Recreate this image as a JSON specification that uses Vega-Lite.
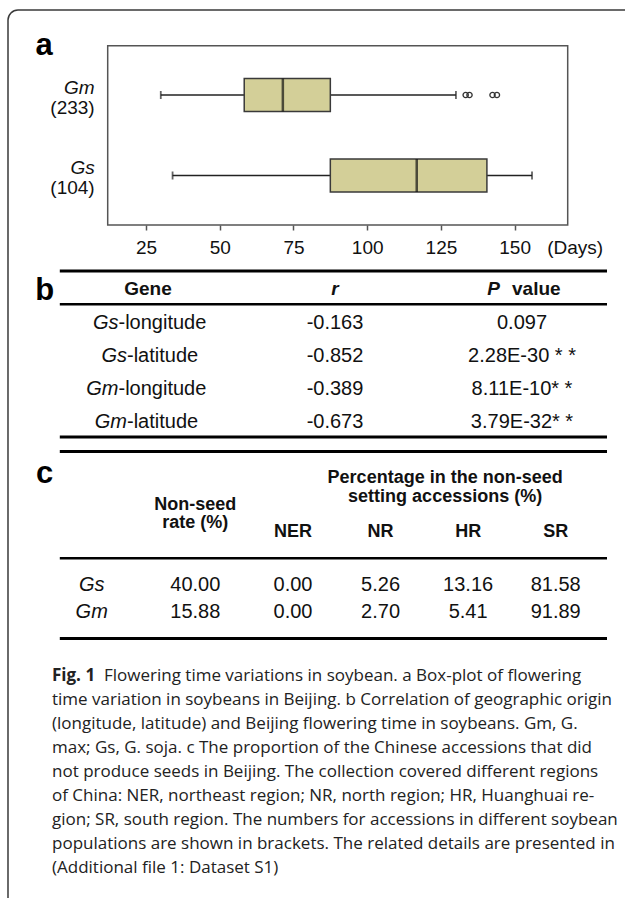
{
  "$schema": "https://vega.github.io/schema/vega-lite/v6.json",
  "width": 630,
  "height": 900,
  "autosize": "none",
  "padding": {"left": 8, "top": 10, "right": -13, "bottom": -12},
  "background": "white",
  "config": {
    "view": {"stroke": "#3a3a3a", "strokeWidth": 1.5, "cornerRadius": 10},
    "text": {"font": "Liberation Sans", "color": "#111"}
  },
  "resolve": {
    "scale": {"x": "independent", "y": "independent"},
    "axis": {"x": "independent", "y": "independent"}
  },
  "layer": [
    {
      "data": {"values": [{"panel": "a"}]},
      "layer": [
        {
          "mark": {"type": "rect", "fill": "transparent", "stroke": "#555555", "strokeWidth": 1.5},
          "encoding": {
            "x": {"datum": 12, "type": "quantitative", "scale": {"domain": [12, 168], "range": [99.7, 559.7], "nice": false, "zero": false}, "axis": null},
            "x2": {"datum": 168},
            "y": {"datum": 0, "type": "quantitative", "scale": {"domain": [0, 1], "range": [35.7, 215], "nice": false, "zero": false}, "axis": null},
            "y2": {"datum": 1}
          }
        },
        {
          "mark": {"type": "text", "align": "center", "baseline": "alphabetic", "dx": -63.7, "dy": 9.3, "fontSize": 31, "fontWeight": "bold", "color": "#000"},
          "encoding": {
            "x": {"datum": 12, "type": "quantitative", "scale": {"domain": [12, 168], "range": [99.7, 559.7], "nice": false, "zero": false}, "axis": null},
            "y": {"datum": 0, "type": "quantitative", "scale": {"domain": [0, 1], "range": [35.7, 215], "nice": false, "zero": false}, "axis": null},
            "text": {"field": "panel"}
          }
        }
      ]
    },
    {
      "data": {"values": [
        {"species": "Gm", "label": "Gm", "count": "(233)", "lo": 30, "q1": 58.3, "med": 71.4, "q3": 87.5, "hi": 130.1},
        {"species": "Gs", "label": "Gs", "count": "(104)", "lo": 34, "q1": 87.5, "med": 116.8, "q3": 140.6, "hi": 155.9}
      ]},
      "layer": [
        {
          "mark": {"type": "rule", "color": "#222", "strokeWidth": 1.5},
          "encoding": {
            "x": {"field": "lo", "type": "quantitative", "scale": {"domain": [12, 168], "range": [99.7, 559.7], "nice": false, "zero": false},
              "axis": {"orient": "bottom", "offset": -685, "values": [25, 50, 75, 100, 125, 150], "domain": false, "grid": false, "ticks": true, "tickSize": 5, "tickColor": "#555555", "tickWidth": 1.5, "labelFont": "Liberation Sans", "labelFontSize": 19, "labelColor": "#111", "labelPadding": 23.1, "labelBaseline": "alphabetic", "labelFlush": false, "labelOverlap": false, "title": "(Days)", "titleX": 566.7, "titleY": 28.1, "titleBaseline": "alphabetic", "titleAlign": "center", "titleFont": "Liberation Sans", "titleFontSize": 19, "titleFontWeight": "normal", "titleColor": "#111"}},
            "x2": {"field": "hi"},
            "y": {"field": "species", "type": "nominal", "scale": {"type": "point", "domain": ["Gm", "Gs"], "range": [85, 165.5], "padding": 0}, "axis": null}
          }
        },
        {
          "mark": {"type": "tick", "color": "#222", "size": 8, "thickness": 1.8},
          "encoding": {
            "x": {"field": "lo", "type": "quantitative", "scale": {"domain": [12, 168], "range": [99.7, 559.7], "nice": false, "zero": false}},
            "y": {"field": "species", "type": "nominal", "scale": {"type": "point", "domain": ["Gm", "Gs"], "range": [85, 165.5], "padding": 0}, "axis": null}
          }
        },
        {
          "mark": {"type": "tick", "color": "#222", "size": 8, "thickness": 1.8},
          "encoding": {
            "x": {"field": "hi", "type": "quantitative", "scale": {"domain": [12, 168], "range": [99.7, 559.7], "nice": false, "zero": false}},
            "y": {"field": "species", "type": "nominal", "scale": {"type": "point", "domain": ["Gm", "Gs"], "range": [85, 165.5], "padding": 0}, "axis": null}
          }
        },
        {
          "mark": {"type": "bar", "size": 33, "fill": "#d3cf98", "stroke": "#3a3a3a", "strokeWidth": 1.5},
          "encoding": {
            "x": {"field": "q1", "type": "quantitative", "scale": {"domain": [12, 168], "range": [99.7, 559.7], "nice": false, "zero": false}},
            "x2": {"field": "q3"},
            "y": {"field": "species", "type": "nominal", "scale": {"type": "point", "domain": ["Gm", "Gs"], "range": [85, 165.5], "padding": 0}, "axis": null}
          }
        },
        {
          "mark": {"type": "tick", "color": "#111", "size": 33, "thickness": 2.5},
          "encoding": {
            "x": {"field": "med", "type": "quantitative", "scale": {"domain": [12, 168], "range": [99.7, 559.7], "nice": false, "zero": false}},
            "y": {"field": "species", "type": "nominal", "scale": {"type": "point", "domain": ["Gm", "Gs"], "range": [85, 165.5], "padding": 0}, "axis": null}
          }
        },
        {
          "mark": {"type": "text", "align": "right", "baseline": "middle", "dx": -13, "dy": -7.5, "fontSize": 19, "fontStyle": "italic", "color": "#111"},
          "encoding": {
            "x": {"datum": 12, "type": "quantitative", "scale": {"domain": [12, 168], "range": [99.7, 559.7], "nice": false, "zero": false}},
            "y": {"field": "species", "type": "nominal", "scale": {"type": "point", "domain": ["Gm", "Gs"], "range": [85, 165.5], "padding": 0}, "axis": null},
            "text": {"field": "label"}
          }
        },
        {
          "mark": {"type": "text", "align": "right", "baseline": "middle", "dx": -13, "dy": 12.5, "fontSize": 19, "color": "#111"},
          "encoding": {
            "x": {"datum": 12, "type": "quantitative", "scale": {"domain": [12, 168], "range": [99.7, 559.7], "nice": false, "zero": false}},
            "y": {"field": "species", "type": "nominal", "scale": {"type": "point", "domain": ["Gm", "Gs"], "range": [85, 165.5], "padding": 0}, "axis": null},
            "text": {"field": "count"}
          }
        },
        {
          "data": {"values": [
            {"species": "Gm", "value": 133.4},
            {"species": "Gm", "value": 134.7},
            {"species": "Gm", "value": 142.5},
            {"species": "Gm", "value": 144.0}
          ]},
          "mark": {"type": "point", "shape": "circle", "filled": false, "size": 28, "strokeWidth": 1.3, "color": "#333", "opacity": 1},
          "encoding": {
            "x": {"field": "value", "type": "quantitative", "scale": {"domain": [12, 168], "range": [99.7, 559.7], "nice": false, "zero": false}},
            "y": {"field": "species", "type": "nominal", "scale": {"type": "point", "domain": ["Gm", "Gs"], "range": [85, 165.5], "padding": 0}, "axis": null}
          }
        }
      ]
    },
    {
      "data": {"values": [
        {"gene": "Gs-longitude", "sp": "Gs", "trait": "-longitude", "r": "-0.163", "p": "0.097"},
        {"gene": "Gs-latitude", "sp": "Gs", "trait": "-latitude", "r": "-0.852", "p": "2.28E-30 * *"},
        {"gene": "Gm-longitude", "sp": "Gm", "trait": "-longitude", "r": "-0.389", "p": "8.11E-10* *"},
        {"gene": "Gm-latitude", "sp": "Gm", "trait": "-latitude", "r": "-0.673", "p": "3.79E-32* *"}
      ]},
      "resolve": {"scale": {"x": "independent"}},
      "layer": [
        {
          "data": {"values": [{"edge": "top"}, {"edge": "bottom"}]},
          "mark": {"type": "rule", "color": "#000", "strokeWidth": 3},
          "encoding": {
            "x": {"datum": 0, "type": "quantitative", "scale": {"domain": [0, 1], "range": [51.8, 599], "nice": false, "zero": false}, "axis": null},
            "x2": {"datum": 1},
            "y": {"field": "edge", "type": "nominal", "scale": {"type": "point", "domain": ["top", "header", "mid", "Gs-longitude", "s1", "Gs-latitude", "s2", "Gm-longitude", "s3", "Gm-latitude", "bottom"], "range": [261, 427], "padding": 0}, "axis": null}
          }
        },
        {
          "data": {"values": [{"edge": "mid"}]},
          "mark": {"type": "rule", "color": "#000", "strokeWidth": 2.5},
          "encoding": {
            "x": {"datum": 0, "type": "quantitative", "scale": {"domain": [0, 1], "range": [51.8, 599], "nice": false, "zero": false}, "axis": null},
            "x2": {"datum": 1},
            "y": {"field": "edge", "type": "nominal", "scale": {"type": "point", "domain": ["top", "header", "mid", "Gs-longitude", "s1", "Gs-latitude", "s2", "Gm-longitude", "s3", "Gm-latitude", "bottom"], "range": [261, 427], "padding": 0}, "axis": null}
          }
        },
        {
          "data": {"values": [{"col": "Gene", "row": "header", "label": "Gene"}]},
          "mark": {"type": "text", "align": "center", "baseline": "middle", "dy": 1, "fontSize": 19, "fontWeight": "bold"},
          "encoding": {
            "x": {"field": "col", "type": "nominal", "scale": {"type": "point", "domain": ["Gene", "r", "P"], "range": [140, 514], "padding": 0}, "axis": null},
            "y": {"field": "row", "type": "nominal", "scale": {"type": "point", "domain": ["top", "header", "mid", "Gs-longitude", "s1", "Gs-latitude", "s2", "Gm-longitude", "s3", "Gm-latitude", "bottom"], "range": [261, 427], "padding": 0}, "axis": null},
            "text": {"field": "label"}
          }
        },
        {
          "data": {"values": [{"col": "r", "row": "header", "label": "r"}]},
          "mark": {"type": "text", "align": "center", "baseline": "middle", "dy": 1, "fontSize": 19, "fontWeight": "bold", "fontStyle": "italic"},
          "encoding": {
            "x": {"field": "col", "type": "nominal", "scale": {"type": "point", "domain": ["Gene", "r", "P"], "range": [140, 514], "padding": 0}, "axis": null},
            "y": {"field": "row", "type": "nominal", "scale": {"type": "point", "domain": ["top", "header", "mid", "Gs-longitude", "s1", "Gs-latitude", "s2", "Gm-longitude", "s3", "Gm-latitude", "bottom"], "range": [261, 427], "padding": 0}, "axis": null},
            "text": {"field": "label"}
          }
        },
        {
          "data": {"values": [{"col": "P", "row": "header", "label": "P"}]},
          "mark": {"type": "text", "align": "right", "baseline": "middle", "dy": 1, "dx": -22, "fontSize": 19, "fontWeight": "bold", "fontStyle": "italic"},
          "encoding": {
            "x": {"field": "col", "type": "nominal", "scale": {"type": "point", "domain": ["Gene", "r", "P"], "range": [140, 514], "padding": 0}, "axis": null},
            "y": {"field": "row", "type": "nominal", "scale": {"type": "point", "domain": ["top", "header", "mid", "Gs-longitude", "s1", "Gs-latitude", "s2", "Gm-longitude", "s3", "Gm-latitude", "bottom"], "range": [261, 427], "padding": 0}, "axis": null},
            "text": {"field": "label"}
          }
        },
        {
          "data": {"values": [{"col": "P", "row": "header", "label": "value"}]},
          "mark": {"type": "text", "align": "left", "baseline": "middle", "dy": 1, "dx": -10, "fontSize": 19, "fontWeight": "bold"},
          "encoding": {
            "x": {"field": "col", "type": "nominal", "scale": {"type": "point", "domain": ["Gene", "r", "P"], "range": [140, 514], "padding": 0}, "axis": null},
            "y": {"field": "row", "type": "nominal", "scale": {"type": "point", "domain": ["top", "header", "mid", "Gs-longitude", "s1", "Gs-latitude", "s2", "Gm-longitude", "s3", "Gm-latitude", "bottom"], "range": [261, 427], "padding": 0}, "axis": null},
            "text": {"field": "label"}
          }
        },
        {
          "transform": [{"filter": "datum.trait === '-longitude'"}],
          "mark": {"type": "text", "align": "right", "baseline": "middle", "dy": 2, "dx": -29.5, "fontSize": 20, "fontStyle": "italic"},
          "encoding": {
            "x": {"datum": "Gene", "type": "nominal", "scale": {"type": "point", "domain": ["Gene", "r", "P"], "range": [140, 514], "padding": 0}, "axis": null},
            "y": {"field": "gene", "type": "nominal", "scale": {"type": "point", "domain": ["top", "header", "mid", "Gs-longitude", "s1", "Gs-latitude", "s2", "Gm-longitude", "s3", "Gm-latitude", "bottom"], "range": [261, 427], "padding": 0}, "axis": null},
            "text": {"field": "sp"}
          }
        },
        {
          "transform": [{"filter": "datum.trait === '-longitude'"}],
          "mark": {"type": "text", "align": "left", "baseline": "middle", "dy": 2, "dx": -29.5, "fontSize": 20},
          "encoding": {
            "x": {"datum": "Gene", "type": "nominal", "scale": {"type": "point", "domain": ["Gene", "r", "P"], "range": [140, 514], "padding": 0}, "axis": null},
            "y": {"field": "gene", "type": "nominal", "scale": {"type": "point", "domain": ["top", "header", "mid", "Gs-longitude", "s1", "Gs-latitude", "s2", "Gm-longitude", "s3", "Gm-latitude", "bottom"], "range": [261, 427], "padding": 0}, "axis": null},
            "text": {"field": "trait"}
          }
        },
        {
          "transform": [{"filter": "datum.trait === '-latitude'"}],
          "mark": {"type": "text", "align": "right", "baseline": "middle", "dy": 2, "dx": -21, "fontSize": 20, "fontStyle": "italic"},
          "encoding": {
            "x": {"datum": "Gene", "type": "nominal", "scale": {"type": "point", "domain": ["Gene", "r", "P"], "range": [140, 514], "padding": 0}, "axis": null},
            "y": {"field": "gene", "type": "nominal", "scale": {"type": "point", "domain": ["top", "header", "mid", "Gs-longitude", "s1", "Gs-latitude", "s2", "Gm-longitude", "s3", "Gm-latitude", "bottom"], "range": [261, 427], "padding": 0}, "axis": null},
            "text": {"field": "sp"}
          }
        },
        {
          "transform": [{"filter": "datum.trait === '-latitude'"}],
          "mark": {"type": "text", "align": "left", "baseline": "middle", "dy": 2, "dx": -21, "fontSize": 20},
          "encoding": {
            "x": {"datum": "Gene", "type": "nominal", "scale": {"type": "point", "domain": ["Gene", "r", "P"], "range": [140, 514], "padding": 0}, "axis": null},
            "y": {"field": "gene", "type": "nominal", "scale": {"type": "point", "domain": ["top", "header", "mid", "Gs-longitude", "s1", "Gs-latitude", "s2", "Gm-longitude", "s3", "Gm-latitude", "bottom"], "range": [261, 427], "padding": 0}, "axis": null},
            "text": {"field": "trait"}
          }
        },
        {
          "mark": {"type": "text", "align": "center", "baseline": "middle", "dy": 2, "fontSize": 20},
          "encoding": {
            "x": {"datum": "r", "type": "nominal", "scale": {"type": "point", "domain": ["Gene", "r", "P"], "range": [140, 514], "padding": 0}, "axis": null},
            "y": {"field": "gene", "type": "nominal", "scale": {"type": "point", "domain": ["top", "header", "mid", "Gs-longitude", "s1", "Gs-latitude", "s2", "Gm-longitude", "s3", "Gm-latitude", "bottom"], "range": [261, 427], "padding": 0}, "axis": null},
            "text": {"field": "r"}
          }
        },
        {
          "mark": {"type": "text", "align": "center", "baseline": "middle", "dy": 2, "fontSize": 20},
          "encoding": {
            "x": {"datum": "P", "type": "nominal", "scale": {"type": "point", "domain": ["Gene", "r", "P"], "range": [140, 514], "padding": 0}, "axis": null},
            "y": {"field": "gene", "type": "nominal", "scale": {"type": "point", "domain": ["top", "header", "mid", "Gs-longitude", "s1", "Gs-latitude", "s2", "Gm-longitude", "s3", "Gm-latitude", "bottom"], "range": [261, 427], "padding": 0}, "axis": null},
            "text": {"field": "p"}
          }
        },
        {
          "data": {"values": [{"panel": "b"}]},
          "mark": {"type": "text", "align": "center", "baseline": "alphabetic", "dx": -103.3, "dy": 12.4, "fontSize": 31, "fontWeight": "bold", "color": "#000"},
          "encoding": {
            "x": {"datum": "Gene", "type": "nominal", "scale": {"type": "point", "domain": ["Gene", "r", "P"], "range": [140, 514], "padding": 0}, "axis": null},
            "y": {"datum": "header", "type": "nominal", "scale": {"type": "point", "domain": ["top", "header", "mid", "Gs-longitude", "s1", "Gs-latitude", "s2", "Gm-longitude", "s3", "Gm-latitude", "bottom"], "range": [261, 427], "padding": 0}, "axis": null},
            "text": {"field": "panel"}
          }
        }
      ]
    },
    {
      "data": {"values": [
        {"species": "Gs", "rate": 40.00, "NER": 0.00, "NR": 5.26, "HR": 13.16, "SR": 81.58},
        {"species": "Gm", "rate": 15.88, "NER": 0.00, "NR": 2.70, "HR": 5.41, "SR": 91.89}
      ]},
      "resolve": {"scale": {"x": "independent"}},
      "layer": [
        {
          "data": {"values": [{"edge": "top"}, {"edge": "bottom"}]},
          "mark": {"type": "rule", "color": "#000", "strokeWidth": 3},
          "encoding": {
            "x": {"datum": 0, "type": "quantitative", "scale": {"domain": [0, 1], "range": [51.8, 599], "nice": false, "zero": false}, "axis": null},
            "x2": {"datum": 1},
            "y": {"field": "edge", "type": "nominal", "scale": {"type": "point", "domain": ["top", "pct", "rate", "sub", "mid", "Gs", "Gm", "bottom"], "range": [441.5, 628.5], "padding": 0}, "axis": null}
          }
        },
        {
          "data": {"values": [{"edge": "mid"}]},
          "mark": {"type": "rule", "color": "#000", "strokeWidth": 2.5},
          "encoding": {
            "x": {"datum": 0, "type": "quantitative", "scale": {"domain": [0, 1], "range": [51.8, 599], "nice": false, "zero": false}, "axis": null},
            "x2": {"datum": 1},
            "y": {"field": "edge", "type": "nominal", "scale": {"type": "point", "domain": ["top", "pct", "rate", "sub", "mid", "Gs", "Gm", "bottom"], "range": [441.5, 628.5], "padding": 0}, "axis": null}
          }
        },
        {
          "data": {"values": [{"col": "rate", "row": "rate", "h": ["Non-seed", "rate (%)"]}]},
          "mark": {"type": "text", "align": "center", "baseline": "middle", "fontSize": 18, "fontWeight": "bold", "lineHeight": 18.5},
          "encoding": {
            "x": {"field": "col", "type": "nominal", "scale": {"type": "point", "domain": ["name", "rate"], "range": [83.7, 187.3], "padding": 0}, "axis": null},
            "y": {"field": "row", "type": "nominal", "scale": {"type": "point", "domain": ["top", "pct", "rate", "sub", "mid", "Gs", "Gm", "bottom"], "range": [441.5, 628.5], "padding": 0}, "axis": null},
            "text": {"field": "h"}
          }
        },
        {
          "data": {"values": [{"col": "HR", "row": "pct", "h": ["Percentage in the non-seed", "setting accessions (%)"]}]},
          "mark": {"type": "text", "align": "center", "baseline": "middle", "dx": -23, "fontSize": 18, "fontWeight": "bold", "lineHeight": 18.5},
          "encoding": {
            "x": {"field": "col", "type": "nominal", "scale": {"type": "point", "domain": ["NER", "NR", "HR", "SR"], "range": [285, 547.7], "padding": 0}, "axis": null},
            "y": {"field": "row", "type": "nominal", "scale": {"type": "point", "domain": ["top", "pct", "rate", "sub", "mid", "Gs", "Gm", "bottom"], "range": [441.5, 628.5], "padding": 0}, "axis": null},
            "text": {"field": "h"}
          }
        },
        {
          "transform": [{"filter": "datum.species === 'Gs'"}, {"fold": ["NER", "NR", "HR", "SR"], "as": ["region", "pct"]}],
          "mark": {"type": "text", "align": "center", "baseline": "middle", "fontSize": 18, "fontWeight": "bold"},
          "encoding": {
            "x": {"field": "region", "type": "nominal", "scale": {"type": "point", "domain": ["NER", "NR", "HR", "SR"], "range": [285, 547.7], "padding": 0}, "axis": null},
            "y": {"datum": "sub", "type": "nominal", "scale": {"type": "point", "domain": ["top", "pct", "rate", "sub", "mid", "Gs", "Gm", "bottom"], "range": [441.5, 628.5], "padding": 0}, "axis": null},
            "text": {"field": "region"}
          }
        },
        {
          "mark": {"type": "text", "align": "center", "baseline": "middle", "fontSize": 20, "fontStyle": "italic"},
          "encoding": {
            "x": {"datum": "name", "type": "nominal", "scale": {"type": "point", "domain": ["name", "rate"], "range": [83.7, 187.3], "padding": 0}, "axis": null},
            "y": {"field": "species", "type": "nominal", "scale": {"type": "point", "domain": ["top", "pct", "rate", "sub", "mid", "Gs", "Gm", "bottom"], "range": [441.5, 628.5], "padding": 0}, "axis": null},
            "text": {"field": "species"}
          }
        },
        {
          "mark": {"type": "text", "align": "center", "baseline": "middle", "fontSize": 20},
          "encoding": {
            "x": {"datum": "rate", "type": "nominal", "scale": {"type": "point", "domain": ["name", "rate"], "range": [83.7, 187.3], "padding": 0}, "axis": null},
            "y": {"field": "species", "type": "nominal", "scale": {"type": "point", "domain": ["top", "pct", "rate", "sub", "mid", "Gs", "Gm", "bottom"], "range": [441.5, 628.5], "padding": 0}, "axis": null},
            "text": {"field": "rate", "type": "quantitative", "format": ".2f"}
          }
        },
        {
          "transform": [{"fold": ["NER", "NR", "HR", "SR"], "as": ["region", "pct"]}],
          "mark": {"type": "text", "align": "center", "baseline": "middle", "fontSize": 20},
          "encoding": {
            "x": {"field": "region", "type": "nominal", "scale": {"type": "point", "domain": ["NER", "NR", "HR", "SR"], "range": [285, 547.7], "padding": 0}, "axis": null},
            "y": {"field": "species", "type": "nominal", "scale": {"type": "point", "domain": ["top", "pct", "rate", "sub", "mid", "Gs", "Gm", "bottom"], "range": [441.5, 628.5], "padding": 0}, "axis": null},
            "text": {"field": "pct", "type": "quantitative", "format": ".2f"}
          }
        },
        {
          "data": {"values": [{"panel": "c"}]},
          "mark": {"type": "text", "align": "center", "baseline": "alphabetic", "dx": -47, "dy": 4.5, "fontSize": 31, "fontWeight": "bold", "color": "#000"},
          "encoding": {
            "x": {"datum": "name", "type": "nominal", "scale": {"type": "point", "domain": ["name", "rate"], "range": [83.7, 187.3], "padding": 0}, "axis": null},
            "y": {"datum": "pct", "type": "nominal", "scale": {"type": "point", "domain": ["top", "pct", "rate", "sub", "mid", "Gs", "Gm", "bottom"], "range": [441.5, 628.5], "padding": 0}, "axis": null},
            "text": {"field": "panel"}
          }
        }
      ]
    },
    {
      "data": {"values": [
        {"line": 1, "lead": "Fig. 1", "text": "Flowering time variations in soybean. a Box-plot of flowering"},
        {"line": 2, "text": "time variation in soybeans in Beijing. b Correlation of geographic origin"},
        {"line": 3, "text": "(longitude, latitude) and Beijing flowering time in soybeans. Gm, G."},
        {"line": 4, "text": "max; Gs, G. soja. c The proportion of the Chinese accessions that did"},
        {"line": 5, "text": "not produce seeds in Beijing. The collection covered different regions"},
        {"line": 6, "text": "of China: NER, northeast region; NR, north region; HR, Huanghuai re-"},
        {"line": 7, "text": "gion; SR, south region. The numbers for accessions in different soybean"},
        {"line": 8, "text": "populations are shown in brackets. The related details are presented in"},
        {"line": 9, "text": "(Additional file 1: Dataset S1)"}
      ]},
      "layer": [
        {
          "transform": [{"filter": "datum.line === 1"}],
          "mark": {"type": "text", "align": "left", "baseline": "middle", "font": "Open Sans", "fontSize": 17, "fontWeight": "bold", "color": "#222"},
          "encoding": {
            "x": {"datum": 0, "type": "quantitative", "scale": {"domain": [0, 1], "range": [44, 600], "nice": false, "zero": false}, "axis": null},
            "y": {"field": "line", "type": "ordinal", "scale": {"type": "point", "domain": [1, 2, 3, 4, 5, 6, 7, 8, 9], "range": [666, 858], "padding": 0}, "axis": null},
            "text": {"field": "lead"}
          }
        },
        {
          "transform": [{"filter": "datum.line === 1"}],
          "mark": {"type": "text", "align": "left", "baseline": "middle", "dx": 52, "font": "Open Sans", "fontSize": 17, "color": "#222"},
          "encoding": {
            "x": {"datum": 0, "type": "quantitative", "scale": {"domain": [0, 1], "range": [44, 600], "nice": false, "zero": false}, "axis": null},
            "y": {"field": "line", "type": "ordinal", "scale": {"type": "point", "domain": [1, 2, 3, 4, 5, 6, 7, 8, 9], "range": [666, 858], "padding": 0}, "axis": null},
            "text": {"field": "text"}
          }
        },
        {
          "transform": [{"filter": "datum.line > 1"}],
          "mark": {"type": "text", "align": "left", "baseline": "middle", "font": "Open Sans", "fontSize": 17, "color": "#222"},
          "encoding": {
            "x": {"datum": 0, "type": "quantitative", "scale": {"domain": [0, 1], "range": [44, 600], "nice": false, "zero": false}, "axis": null},
            "y": {"field": "line", "type": "ordinal", "scale": {"type": "point", "domain": [1, 2, 3, 4, 5, 6, 7, 8, 9], "range": [666, 858], "padding": 0}, "axis": null},
            "text": {"field": "text"}
          }
        }
      ]
    }
  ]
}
